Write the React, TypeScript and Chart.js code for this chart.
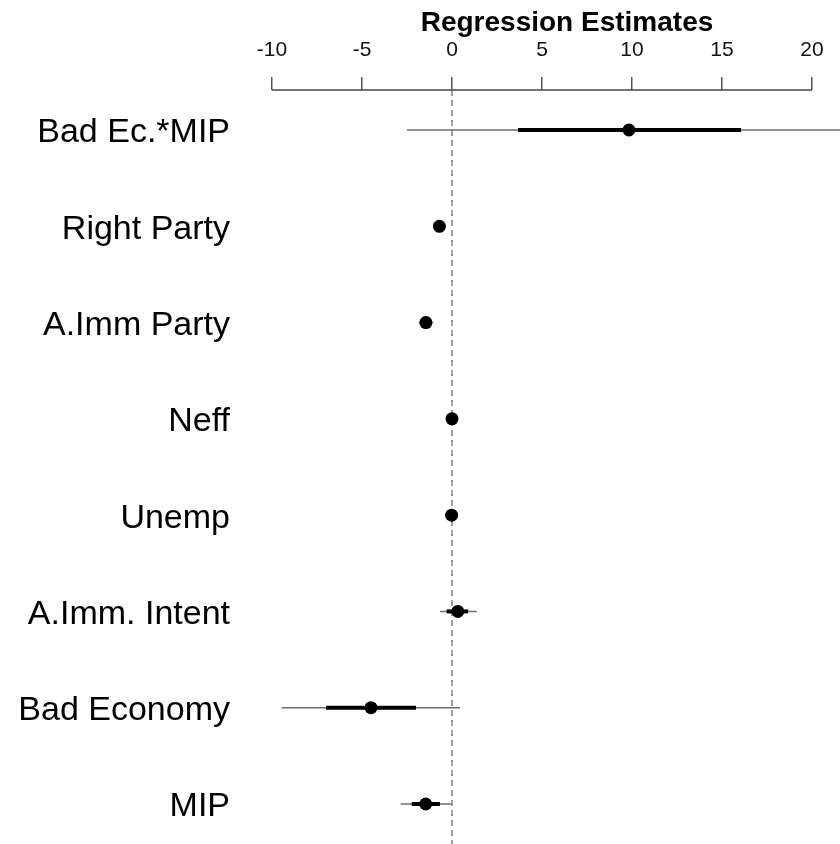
import React, { useEffect, useRef } from 'react';
import { Chart, registerables } from 'chart.js';

Chart.register(...registerables);

const categories = ['Bad Ec.*MIP', 'Right Party', 'A.Imm Party', 'Neff', 'Unemp', 'A.Imm. Intent', 'Bad Economy', 'MIP'];
const estimates = [9.83, -0.7, -1.45, 0.0, -0.02, 0.32, -4.5, -1.46];
const innerLow = [3.67, -0.85, -1.65, -0.05, -0.05, -0.3, -7.0, -2.24];
const innerHigh = [16.06, -0.55, -1.25, 0.05, 0.01, 0.9, -2.0, -0.67];
const outerLow = [-2.5, -1.0, -1.85, -0.1, -0.08, -0.67, -9.46, -2.85];
const outerHigh = [22.2, -0.4, -1.05, 0.1, 0.04, 1.37, 0.44, -0.02];
const xTickStep = 5;
const axisFrom = -10;
const axisTo = 20;
const titleText = 'Regression Estimates';

const FONT = "'Liberation Sans', Arial, Helvetica, sans-serif";

export default function App() {
  const ref = useRef<HTMLCanvasElement>(null);

  useEffect(() => {
    if (!ref.current) return;
    const xMin = -11.778;
    const xMax = 21.556;
    const yMin = -0.4155;
    const yMax = 7.4155;

    const thin = categories.map((_, i) => ({
      type: 'line' as const,
      data: [{ x: outerLow[i], y: i }, { x: outerHigh[i], y: i }],
      borderColor: '#6e6e6e',
      borderWidth: 1.6,
      pointRadius: 0,
      showLine: true,
      order: 3,
    }));
    const thick = categories.map((_, i) => ({
      type: 'line' as const,
      data: [{ x: innerLow[i], y: i }, { x: innerHigh[i], y: i }],
      borderColor: '#000',
      borderWidth: 4,
      pointRadius: 0,
      showLine: true,
      order: 2,
    }));

    const plugin = {
      id: 'axisAndTitle',
      afterDraw(chart: any) {
        const ctx = chart.ctx;
        const xs = chart.scales.x;
        const top = chart.chartArea.top;
        ctx.save();
        ctx.strokeStyle = '#444';
        ctx.lineWidth = 1.5;
        ctx.beginPath();
        ctx.moveTo(xs.getPixelForValue(axisFrom), top);
        ctx.lineTo(xs.getPixelForValue(axisTo), top);
        ctx.stroke();
        ctx.fillStyle = '#000';
        ctx.font = `bold 28px ${FONT}`;
        ctx.textAlign = 'center';
        ctx.textBaseline = 'alphabetic';
        ctx.fillText(titleText, 567, 31);
        ctx.restore();
      },
    };

    const chart = new Chart(ref.current, {
      type: 'scatter',
      data: {
        datasets: [
          {
            type: 'line',
            data: [{ x: 0, y: yMin }, { x: 0, y: yMax }],
            borderColor: '#808080',
            borderWidth: 1.5,
            borderDash: [6, 4],
            pointRadius: 0,
            showLine: true,
            order: 4,
          } as any,
          ...thin,
          ...thick,
          {
            type: 'scatter',
            data: estimates.map((v, i) => ({ x: v, y: i })),
            backgroundColor: '#000',
            borderWidth: 0,
            pointRadius: 6.5,
            order: 1,
          } as any,
        ],
      },
      options: {
        responsive: false,
        animation: false,
        devicePixelRatio: 1,
        layout: { padding: 0, autoPadding: false },
        plugins: { legend: { display: false }, tooltip: { enabled: false } },
        scales: {
          x: {
            type: 'linear',
            position: 'top',
            min: xMin,
            max: xMax,
            afterFit: (s: any) => {
              s.height = 90;
              s.paddingLeft = 0;
              s.paddingRight = 0;
              s.paddingTop = 0;
              s.paddingBottom = 0;
            },
            ticks: {
              stepSize: xTickStep,
              includeBounds: false,
              font: { size: 21, family: FONT },
              color: '#111',
              padding: 14,
              maxRotation: 0,
            },
            grid: { display: true, drawOnChartArea: false, drawTicks: true, tickLength: 13, color: '#555', lineWidth: 1.5 },
            border: { display: false },
          },
          y: {
            type: 'linear',
            reverse: true,
            min: yMin,
            max: yMax,
            afterFit: (s: any) => {
              s.width = 240;
              s.paddingTop = 0;
              s.paddingBottom = 0;
              s.paddingLeft = 0;
              s.paddingRight = 0;
            },
            ticks: {
              stepSize: 1,
              includeBounds: false,
              autoSkip: false,
              font: { size: 34, family: FONT },
              color: '#000',
              padding: 10,
              labelOffset: 3,
              callback: (v: any) => (Number.isInteger(v) && categories[v] !== undefined ? categories[v] : ''),
            },
            grid: { display: false, drawTicks: false },
            border: { display: false },
          },
        },
      } as any,
      plugins: [plugin],
    });
    return () => chart.destroy();
  }, []);

  return (
    <div style={{ position: 'fixed', left: 0, top: 0, width: 840, height: 844, background: '#fff' }}>
      <canvas ref={ref} width={840} height={844} style={{ display: 'block' }} />
    </div>
  );
}
